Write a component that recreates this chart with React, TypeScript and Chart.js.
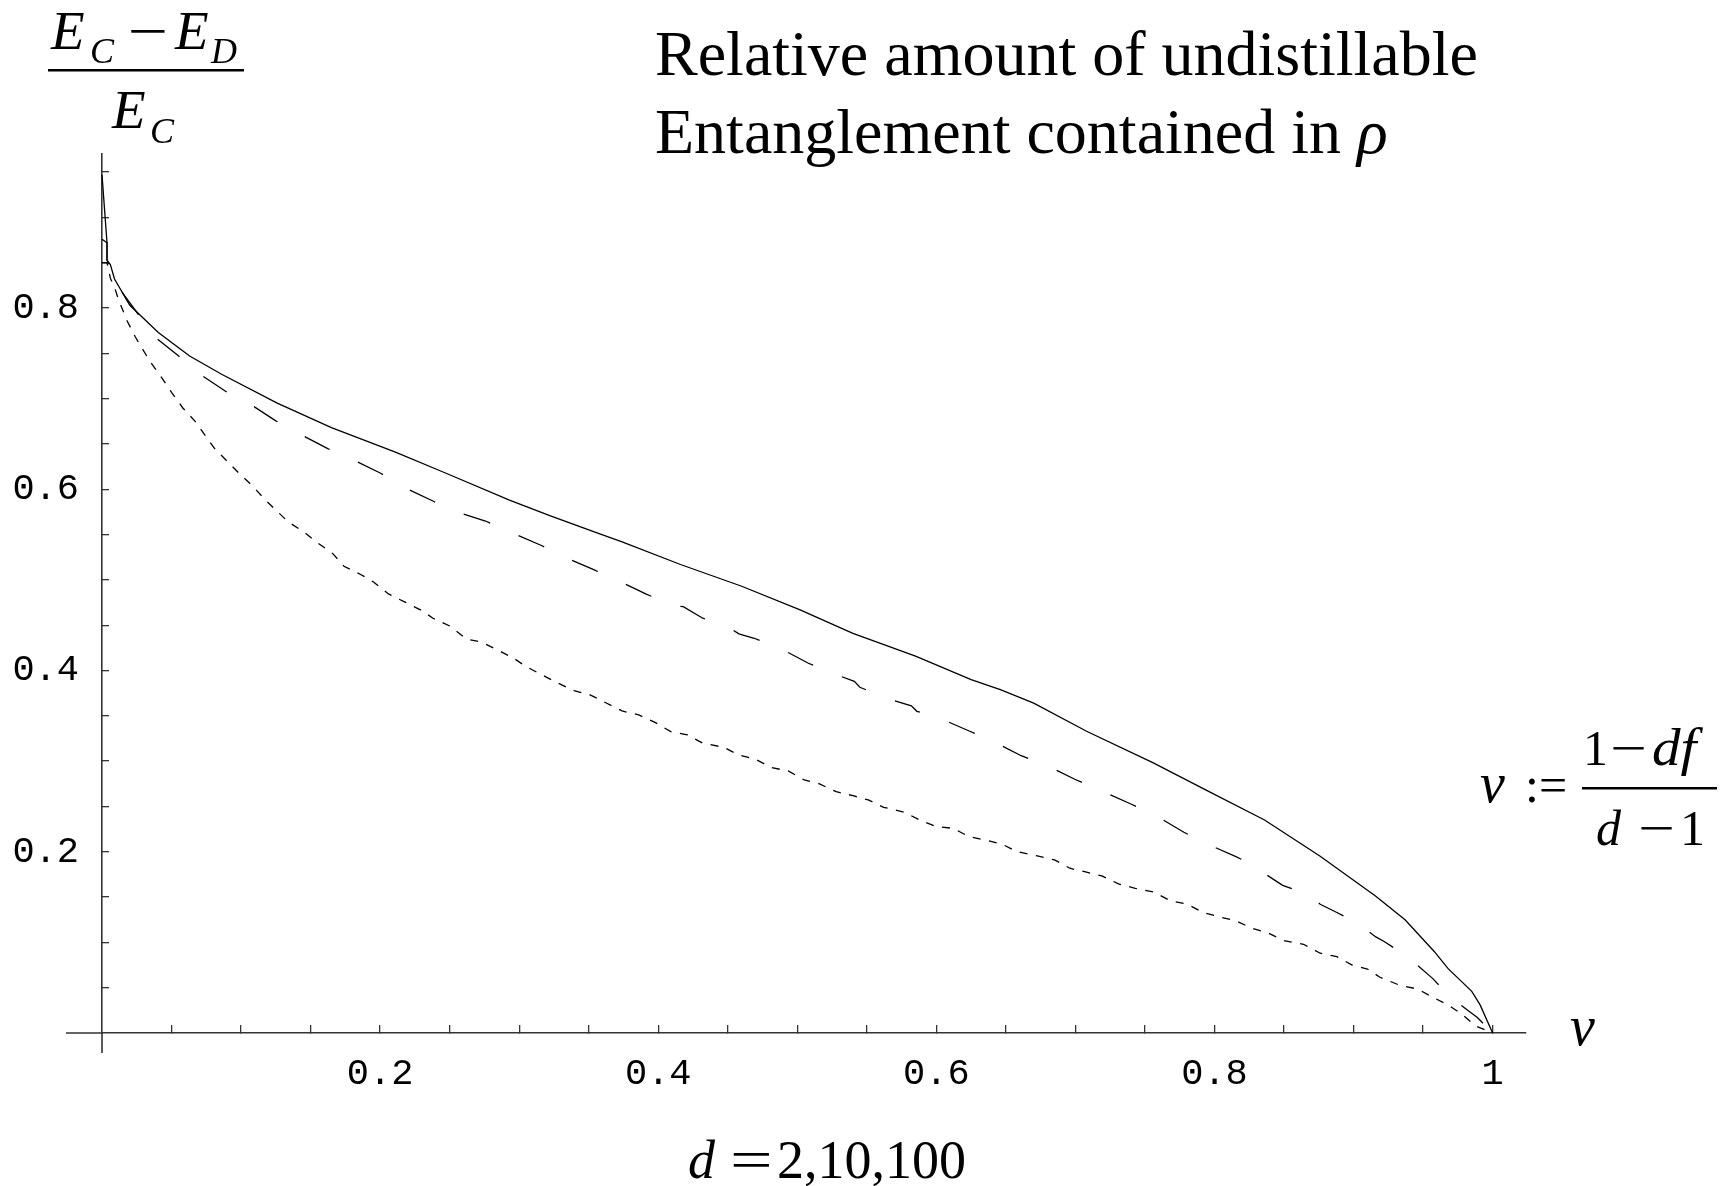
import React, { useEffect, useRef } from "react";
import { Chart, registerables } from "chart.js";

Chart.register(...registerables);

// ---- data (nu on x, (E_C - E_D)/E_C on y) ----
const d2X = [0, 0.0036, 0.0036, 0.006, 0.009, 0.02, 0.0405, 0.063, 0.086, 0.126, 0.165, 0.211, 0.247, 0.293, 0.322, 0.354, 0.374, 0.416, 0.46, 0.502, 0.54, 0.585, 0.625, 0.646, 0.67, 0.708, 0.756, 0.794, 0.836, 0.876, 0.916, 0.937, 0.958, 0.968, 0.985, 0.991, 1.0];
const d2Y = [0.947, 0.872, 0.853, 0.848, 0.832, 0.803, 0.773, 0.747, 0.727, 0.695, 0.668, 0.641, 0.618, 0.588, 0.571, 0.553, 0.542, 0.517, 0.493, 0.467, 0.441, 0.416, 0.39, 0.379, 0.364, 0.333, 0.298, 0.268, 0.235, 0.195, 0.151, 0.125, 0.09, 0.071, 0.046, 0.031, 0.0];

const d10X = [0, 0.0036, 0.0036, 0.008, 0.0141, 0.0266, 0.0405, 0.0556, 0.0724, 0.09, 0.1076, 0.125, 0.1447, 0.1627, 0.1823, 0.2004, 0.2202, 0.2387, 0.258, 0.2758, 0.2957, 0.316, 0.333, 0.354, 0.374, 0.391, 0.412, 0.418, 0.432, 0.449, 0.458, 0.469, 0.49, 0.508, 0.527, 0.541, 0.545, 0.565, 0.582, 0.586, 0.603, 0.624, 0.643, 0.661, 0.681, 0.6995, 0.719, 0.7395, 0.7565, 0.778, 0.794, 0.815, 0.832, 0.835, 0.849, 0.87, 0.876, 0.888, 0.904, 0.916, 0.922, 0.939, 0.957, 0.97, 0.989, 1.0];
const d10Y = [0.876, 0.872, 0.853, 0.835, 0.818, 0.792, 0.765, 0.7465, 0.725, 0.707, 0.693, 0.6755, 0.659, 0.6446, 0.6313, 0.6177, 0.6, 0.5865, 0.5736, 0.565, 0.5515, 0.538, 0.525, 0.511, 0.497, 0.4845, 0.4713, 0.4705, 0.4577, 0.4492, 0.4404, 0.4356, 0.4227, 0.408, 0.396, 0.388, 0.3815, 0.369, 0.361, 0.355, 0.347, 0.333, 0.32, 0.306, 0.294, 0.28, 0.267, 0.253, 0.241, 0.2215, 0.209, 0.195, 0.182, 0.177, 0.163, 0.151, 0.142, 0.133, 0.12, 0.106, 0.101, 0.084, 0.06, 0.039, 0.017, 0.0];

const d100X = [0, 0.0036, 0.006, 0.009, 0.0117, 0.018, 0.024, 0.029, 0.035, 0.043, 0.05, 0.058, 0.067, 0.073, 0.081, 0.09, 0.099, 0.108, 0.117, 0.125, 0.134, 0.146, 0.154, 0.166, 0.174, 0.186, 0.195, 0.206, 0.218, 0.23, 0.238, 0.25, 0.262, 0.273, 0.2845, 0.296, 0.305, 0.3165, 0.328, 0.3395, 0.351, 0.363, 0.374, 0.386, 0.398, 0.409, 0.421, 0.432, 0.447, 0.458, 0.47, 0.4815, 0.4935, 0.505, 0.516, 0.528, 0.54, 0.551, 0.562, 0.577, 0.588, 0.6, 0.612, 0.6235, 0.635, 0.647, 0.658, 0.6725, 0.685, 0.696, 0.708, 0.719, 0.731, 0.743, 0.757, 0.768, 0.78, 0.792, 0.803, 0.815, 0.827, 0.838, 0.85, 0.864, 0.876, 0.888, 0.899, 0.91, 0.919, 0.934, 0.946, 0.957, 0.968, 0.977, 0.988, 1.0];
const d100Y = [0.85, 0.85, 0.833, 0.823, 0.81, 0.786, 0.768, 0.755, 0.74, 0.723, 0.707, 0.69, 0.675, 0.662, 0.645, 0.631, 0.617, 0.604, 0.589, 0.577, 0.564, 0.552, 0.542, 0.529, 0.515, 0.506, 0.498, 0.4845, 0.4754, 0.4661, 0.4577, 0.4492, 0.4349, 0.4312, 0.4227, 0.4136, 0.4043, 0.3951, 0.386, 0.3778, 0.3731, 0.3639, 0.3554, 0.351, 0.3425, 0.3326, 0.3289, 0.3198, 0.3153, 0.3068, 0.302, 0.2928, 0.2892, 0.2792, 0.2748, 0.2663, 0.2619, 0.2572, 0.2491, 0.2436, 0.2351, 0.2277, 0.2259, 0.2167, 0.213, 0.2086, 0.2001, 0.1954, 0.191, 0.1818, 0.1774, 0.1733, 0.1645, 0.1597, 0.1553, 0.146, 0.1424, 0.1328, 0.1284, 0.124, 0.1155, 0.1107, 0.1019, 0.0979, 0.088, 0.0842, 0.075, 0.0706, 0.0615, 0.0522, 0.0486, 0.0394, 0.0309, 0.0217, 0.0077, 0.0];

// tick values and labels
const xTickValues = [0.05, 0.1, 0.15, 0.2, 0.25, 0.3, 0.35, 0.4, 0.45, 0.5, 0.55, 0.6, 0.65, 0.7, 0.75, 0.8, 0.85, 0.9, 0.95, 1.0];
const xTickLabelValues = [0.2, 0.4, 0.6, 0.8, 1.0];
const xTickLabels = ["0.2", "0.4", "0.6", "0.8", "1"];
const yTickValues = [0.05, 0.1, 0.15, 0.2, 0.25, 0.3, 0.35, 0.4, 0.45, 0.5, 0.55, 0.6, 0.65, 0.7, 0.75, 0.8, 0.85, 0.9, 0.95];
const yTickLabelValues = [0.2, 0.4, 0.6, 0.8];
const yTickLabels = ["0.2", "0.4", "0.6", "0.8"];

const SERIF = '"Liberation Serif", "Times New Roman", Times, serif';
const MONO = '"Liberation Mono", "Courier New", Courier, monospace';
const AXIS = "#333";

function labelFor(values: number[], labels: string[], v: number): string {
  const i = values.findIndex((t) => Math.abs(t - v) < 1e-6);
  return i >= 0 ? labels[i] : "";
}

function pts(xs: number[], ys: number[]) {
  return xs.map((x, i) => ({ x, y: ys[i] }));
}

function txt(ctx: CanvasRenderingContext2D, s: string, x: number, y: number, size: number, italic = false, sx = 1) {
  ctx.save();
  ctx.font = `${italic ? "italic " : ""}${size}px ${SERIF}`;
  ctx.textAlign = "left";
  ctx.textBaseline = "alphabetic";
  ctx.translate(x, y);
  ctx.scale(sx, 1);
  ctx.fillText(s, 0, 0);
  const w = ctx.measureText(s).width * sx;
  ctx.restore();
  return w;
}

const annotations = {
  id: "annotations",
  afterDraw(chart: any) {
    const ctx: CanvasRenderingContext2D = chart.ctx;
    const xs = chart.scales.x;
    const ys = chart.scales.y;
    const ox = xs.getPixelForValue(0);
    const oy = ys.getPixelForValue(0);
    ctx.save();
    // axis overhangs past the origin
    ctx.strokeStyle = AXIS;
    ctx.lineWidth = 1.6;
    ctx.beginPath();
    ctx.moveTo(ox - 36, oy);
    ctx.lineTo(ox, oy);
    ctx.moveTo(ox, oy);
    ctx.lineTo(ox, oy + 20);
    ctx.stroke();

    ctx.fillStyle = "#000";
    // title
    txt(ctx, "Relative amount of undistillable", 655, 75, 64);
    const w = txt(ctx, "Entanglement contained in ", 655, 153, 64);
    txt(ctx, "\u03C1", 655 + w, 153, 64, true);

    // y label: (E_C - E_D) / E_C
    txt(ctx, "E", 51, 49, 55, true);
    txt(ctx, "C", 90, 63, 36, true);
    txt(ctx, "\u2212", 128, 49, 53, false, 1.35);
    txt(ctx, "E", 175, 49, 55, true);
    txt(ctx, "D", 211, 63, 36, true);
    ctx.fillRect(48, 69, 196, 2.5);
    txt(ctx, "E", 112, 128, 55, true);
    txt(ctx, "C", 150, 143, 36, true);

    // definition nu := (1 - df)/(d - 1)
    txt(ctx, "\u03BD", 1480, 802, 56, true);
    txt(ctx, ":=", 1525, 802, 50);
    ctx.fillRect(1582, 787, 135, 2.5);
    txt(ctx, "1", 1583, 765, 50);
    txt(ctx, "\u2212", 1610, 765, 50, false, 1.3);
    txt(ctx, "df", 1652, 765, 52, true, 1.1);
    txt(ctx, "d", 1596, 845, 50, true);
    txt(ctx, "\u2212", 1638, 845, 50, false, 1.3);
    txt(ctx, "1", 1680, 845, 50);

    // x axis name
    txt(ctx, "\u03BD", 1570, 1045, 56, true);

    // d = 2,10,100
    txt(ctx, "d", 688, 1178, 54, true);
    txt(ctx, "=", 730, 1178, 54, false, 1.4);
    txt(ctx, "2,10,100", 777, 1178, 54);
    ctx.restore();
  },
};

export default function App() {
  const ref = useRef<HTMLCanvasElement>(null);
  useEffect(() => {
    document.body.style.margin = "0";
    const canvas = ref.current!;
    const line = (data: any, dash: number[]) => ({
      data,
      showLine: true,
      borderColor: "#000",
      backgroundColor: "#000",
      borderWidth: 1.3,
      borderDash: dash,
      borderCapStyle: "butt",
      pointRadius: 0,
      fill: false,
      tension: 0,
      clip: false,
    });
    const chart = new Chart(canvas, {
      type: "scatter",
      data: {
        datasets: [
          { label: "d=2", ...line(pts(d2X, d2Y), []) },
          { label: "d=10", ...line(pts(d10X, d10Y), [28, 31]) },
          { label: "d=100", ...line(pts(d100X, d100Y), [8, 8.5]) },
        ] as any,
      },
      plugins: [annotations],
      options: {
        responsive: false,
        animation: false,
        devicePixelRatio: 1,
        layout: { padding: { top: 154, right: 209, left: 0, bottom: 0 } },
        plugins: { legend: { display: false }, tooltip: { enabled: false }, title: { display: false } },
        scales: {
          x: {
            type: "linear",
            position: "bottom",
            min: 0,
            max: 1.024,
            afterBuildTicks: (s: any) => {
              s.ticks = xTickValues.map((v) => ({ value: v }));
            },
            afterFit: (s: any) => {
              s.height = 153;
            },
            grid: { display: true, drawOnChartArea: false, drawTicks: true, tickLength: -8, color: AXIS, lineWidth: 1.3 },
            border: { display: true, color: AXIS, width: 1.6 },
            ticks: {
              autoSkip: false,
              maxRotation: 0,
              padding: 27,
              color: "#000",
              font: { family: MONO, size: 37 },
              callback: (v: any) => labelFor(xTickLabelValues, xTickLabels, Number(v)),
            },
          },
          y: {
            type: "linear",
            position: "left",
            min: 0,
            max: 0.97,
            afterBuildTicks: (s: any) => {
              s.ticks = yTickValues.map((v) => ({ value: v }));
            },
            afterFit: (s: any) => {
              s.width = 102;
            },
            grid: { display: true, drawOnChartArea: false, drawTicks: true, tickLength: -7, color: AXIS, lineWidth: 1.3 },
            border: { display: true, color: AXIS, width: 1.6 },
            ticks: {
              autoSkip: false,
              padding: 30,
              color: "#000",
              font: { family: MONO, size: 37 },
              callback: (v: any) => labelFor(yTickLabelValues, yTickLabels, Number(v)),
            },
          },
        },
      } as any,
    });
    return () => chart.destroy();
  }, []);
  return (
    <div style={{ width: 1735, height: 1186, position: "relative", background: "#fff" }}>
      <canvas ref={ref} width={1735} height={1186} style={{ display: "block", width: 1735, height: 1186 }} />
    </div>
  );
}
